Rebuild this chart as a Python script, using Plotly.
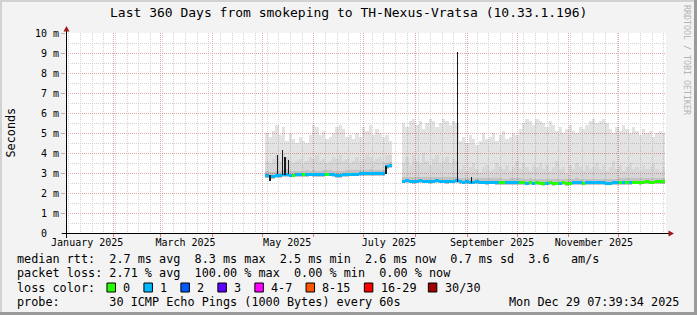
import plotly.graph_objects as go
import pandas as pd

# ---------------- data ----------------
title_text = "Last 360 Days from smokeping to TH-Nexus-Vratsa (10.33.1.196)"
x_range = ["2025-01-03 07:39:34", "2025-12-29 07:39:34"]
y_range = [0, 10]
y_tick_vals = [0, 1, 2, 3, 4, 5, 6, 7, 8, 9, 10]
y_tick_text = ["0\u00a0\u00a0", "1 m", "2 m", "3 m", "4 m", "5 m", "6 m", "7 m", "8 m", "9 m", "10 m"]
x_label_dates = ["2025-01-16 01:00", "2025-03-16 01:00", "2025-05-16 01:00",
                 "2025-07-16 01:00", "2025-09-16 01:00", "2025-11-16 01:00"]
x_label_text = ["January 2025", "March 2025", "May 2025", "July 2025", "September 2025", "November 2025"]
month_starts = ["2025-02-01", "2025-03-01", "2025-04-01", "2025-05-01", "2025-06-01", "2025-07-01",
                "2025-08-01", "2025-09-01", "2025-10-01", "2025-11-01", "2025-12-01"]
week_start = "2025-01-05"

step = "2D"
seg1_start = "2025-05-04"
seg1_median = [2.86, 2.84, 2.83, 2.86, 2.88, 2.92, 2.92, 2.90, 2.90, 2.92,
               2.93, 2.93, 2.94, 2.95, 2.93, 2.92, 2.91, 2.93, 2.95, 2.95,
               2.93, 2.89, 2.88, 2.92, 2.94, 2.95, 2.95, 2.95, 2.96, 2.96,
               2.97, 2.97, 2.97, 2.97, 2.96, 2.97, 3.35, 3.36]
seg1_loss = [1, 1, 1, 1, 1, 1, 1, 1, 0, 1,
             1, 0, 1, 1, 1, 1, 1, 1, 0, 1,
             1, 1, 1, 1, 1, 1, 1, 1, 1, 1,
             1, 1, 1, 1, 1, 1, 1, 1]
seg1_min = [2.74, 2.72, 2.70, 2.74, 2.76, 2.80, 2.80, 2.78, 2.78, 2.80,
            2.81, 2.81, 2.82, 2.83, 2.81, 2.80, 2.79, 2.81, 2.83, 2.83,
            2.81, 2.77, 2.76, 2.80, 2.82, 2.83, 2.83, 2.83, 2.84, 2.84,
            2.85, 2.85, 2.85, 2.85, 2.84, 2.85, 3.22, 3.24]
seg1_inner = [3.10, 3.05, 3.05, 3.12, 3.10, 3.15, 3.20, 3.10, 3.08, 3.12,
              3.10, 3.12, 3.15, 3.12, 3.14, 3.12, 3.10, 3.13, 3.15, 3.14,
              3.12, 3.10, 3.08, 3.12, 3.15, 3.14, 3.15, 3.16, 3.15, 3.17,
              3.16, 3.18, 3.15, 3.17, 3.16, 3.17, 3.52, 3.55]
seg1_mid = [3.6, 3.5, 3.7, 3.9, 3.6, 4.0, 3.8, 3.6, 3.5, 3.6,
            3.7, 3.5, 3.6, 3.8, 3.7, 3.9, 3.6, 3.7, 3.5, 3.6,
            3.8, 3.7, 3.9, 3.6, 3.7, 3.5, 3.6, 3.8, 3.6, 3.7,
            3.9, 3.8, 3.6, 3.7, 3.8, 3.6, 3.9, 3.9]
seg1_max = [5.0, 4.8, 5.1, 5.4, 4.9, 5.3, 4.6, 5.0, 4.7, 4.5,
            4.8, 4.6, 4.5, 4.9, 5.4, 5.3, 4.9, 5.1, 4.7, 4.8,
            5.0, 5.3, 5.4, 5.2, 4.8, 4.9, 4.7, 5.0, 4.8, 5.3,
            5.1, 5.4, 4.9, 5.2, 5.0, 4.8, 4.9, 4.6]

seg2_start = "2025-07-25"
seg2_median = [2.60, 2.61, 2.60, 2.59, 2.60, 2.61, 2.60, 2.60, 2.59, 2.60,
               2.61, 2.60, 2.60, 2.59, 2.60, 2.60, 2.61, 2.56, 2.55, 2.56,
               2.55, 2.55, 2.56, 2.55, 2.55, 2.54, 2.55, 2.55, 2.54, 2.53,
               2.52, 2.51, 2.54, 2.54, 2.53, 2.53, 2.51, 2.50, 2.53, 2.50,
               2.52, 2.50, 2.49, 2.50, 2.52, 2.49, 2.50, 2.50, 2.52, 2.49,
               2.50, 2.52, 2.53, 2.52, 2.50, 2.52, 2.52, 2.51, 2.52, 2.51,
               2.51, 2.50, 2.50, 2.51, 2.52, 2.53, 2.54, 2.53, 2.54, 2.55,
               2.55, 2.54, 2.55, 2.56, 2.55, 2.55, 2.56, 2.56, 2.57]
seg2_loss = [1, 1, 1, 1, 1, 1, 1, 1, 1, 1,
             1, 1, 1, 1, 1, 1, 1, 1, 1, 1,
             1, 1, 1, 1, 1, 1, 1, 1, 1, 0,
             0, 1, 1, 1, 1, 0, 0, 1, 0, 1,
             0, 0, 0, 1, 0, 0, 0, 1, 0, 0,
             0, 1, 1, 1, 0, 1, 1, 1, 1, 1,
             1, 1, 1, 1, 1, 0, 1, 0, 1, 0,
             0, 0, 0, 0, 0, 0, 0, 0, 0]
seg2_min = [2.48, 2.49, 2.48, 2.47, 2.48, 2.49, 2.48, 2.48, 2.47, 2.48,
            2.49, 2.48, 2.48, 2.47, 2.48, 2.48, 2.49, 2.44, 2.43, 2.44,
            2.43, 2.43, 2.44, 2.43, 2.43, 2.42, 2.43, 2.43, 2.42, 2.41,
            2.40, 2.39, 2.42, 2.42, 2.41, 2.41, 2.39, 2.38, 2.41, 2.38,
            2.40, 2.38, 2.37, 2.38, 2.40, 2.37, 2.38, 2.38, 2.40, 2.37,
            2.38, 2.40, 2.41, 2.40, 2.38, 2.40, 2.40, 2.39, 2.40, 2.39,
            2.39, 2.38, 2.38, 2.39, 2.40, 2.41, 2.42, 2.41, 2.42, 2.43,
            2.43, 2.42, 2.43, 2.44, 2.43, 2.43, 2.44, 2.44, 2.45]
seg2_inner = [2.80, 2.81, 2.80, 2.79, 2.80, 2.81, 2.80, 2.80, 2.79, 2.80,
              2.81, 2.80, 2.80, 2.79, 2.80, 2.80, 2.81, 2.76, 2.75, 2.76,
              2.75, 2.75, 2.76, 2.75, 2.75, 2.74, 2.75, 2.75, 2.74, 2.73,
              2.72, 2.71, 2.74, 2.74, 2.73, 2.73, 2.71, 2.70, 2.73, 2.70,
              2.72, 2.70, 2.69, 2.70, 2.72, 2.69, 2.70, 2.70, 2.72, 2.69,
              2.70, 2.72, 2.73, 2.72, 2.70, 2.72, 2.72, 2.71, 2.72, 2.71,
              2.71, 2.70, 2.70, 2.71, 2.72, 2.73, 2.74, 2.73, 2.74, 2.75,
              2.75, 2.74, 2.75, 2.76, 2.75, 2.75, 2.76, 2.76, 2.77]
seg2_mid = [3.5, 3.8, 3.4, 3.9, 3.6, 3.5, 4.0, 3.6, 3.4, 3.7,
            3.9, 3.5, 3.6, 3.8, 3.5, 3.7, 3.6, 3.2, 3.4, 3.1,
            3.3, 3.5, 3.2, 3.0, 3.3, 3.4, 3.1, 3.2, 3.5, 3.3,
            3.2, 3.4, 3.1, 3.3, 3.6, 3.2, 3.5, 3.3, 3.1, 3.4,
            3.3, 3.5, 3.2, 3.4, 3.1, 3.3, 3.6, 3.2, 3.3, 3.0,
            3.4, 3.2, 3.5, 3.3, 3.1, 3.4, 3.2, 3.3, 3.5, 3.2,
            3.4, 3.1, 3.3, 3.6, 3.2, 3.4, 3.1, 3.3, 3.5, 3.2,
            3.3, 3.1, 3.4, 3.2, 3.3, 3.5, 3.2, 3.1, 3.3]
seg2_max = [5.5, 5.3, 5.6, 5.7, 5.4, 5.6, 5.2, 5.5, 5.7, 5.6,
            5.3, 5.5, 5.7, 5.6, 5.4, 5.6, 5.5, 4.6, 4.8, 4.5,
            4.9, 4.7, 4.4, 4.6, 5.0, 4.7, 4.8, 5.0, 4.6, 4.9,
            5.1, 4.7, 4.8, 5.0, 4.9, 5.2, 5.5, 5.7, 5.6, 5.4,
            5.7, 5.6, 5.5, 5.3, 5.6, 5.4, 5.1, 5.3, 5.0, 5.2,
            5.4, 5.1, 5.0, 5.3, 5.2, 5.4, 5.6, 5.7, 5.5, 5.6,
            5.7, 5.5, 5.2, 5.0, 5.3, 5.1, 5.4, 5.2, 5.0, 5.3,
            5.1, 4.9, 5.2, 5.0, 5.1, 4.8, 5.0, 5.1, 5.0]

spike_times = ["2025-05-05 17:00", "2025-05-10 00:00", "2025-05-13 05:00", "2025-05-14 17:00",
               "2025-05-16 19:00", "2025-07-14 07:00", "2025-08-26 10:00", "2025-09-03 10:00"]
spike_low = [2.62, 2.95, 2.90, 2.92, 2.95, 2.95, 2.55, 2.48]
spike_high = [2.90, 3.90, 4.15, 3.80, 3.65, 3.35, 9.05, 2.80]

loss_labels = ["0", "1", "2", "3", "4-7", "8-15", "16-29", "30/30"]
loss_colors = ["#26ff00", "#00b8ff", "#0059ff", "#5e00ff", "#ff00ff", "#ff5500", "#ff0000", "#a10000"]

legend_row1 = "median rtt:  2.7 ms avg  8.3 ms max  2.5 ms min  2.6 ms now  0.7 ms sd  3.6   am/s"
legend_row2 = "packet loss: 2.71 % avg  100.00 % max  0.00 % min  0.00 % now"
legend_row3 = "loss color:"
legend_row4 = "probe:       30 ICMP Echo Pings (1000 Bytes) every 60s"
legend_date = "Mon Dec 29 07:39:34 2025"
y_title = "Seconds"
credit = "RRDTOOL / TOBI OETIKER"

# ---------------- layout constants ----------------
W, H = 697, 315
L, R, T, B = 66, 666, 33, 233
MONO = "DejaVu Sans Mono"
DAY_MS = 86400000
BAR_W = 2 * DAY_MS
SPIKE_W = 0.7 * DAY_MS
MED_T = 0.15


def px(x):
    return (x - L) / (R - L)


def py(y):
    return (B - y) / (B - T)


def nb(s):
    return s.replace(" ", "\u00a0")


fig = go.Figure()


def band(xs, lo, hi, color):
    fig.add_trace(go.Bar(x=xs, y=[h - l for l, h in zip(lo, hi)], base=lo, width=BAR_W,
                         marker=dict(color=color, line=dict(width=0)),
                         hoverinfo="skip", showlegend=False))


for start, med, loss, mn, inner, mid, mx in [
        (seg1_start, seg1_median, seg1_loss, seg1_min, seg1_inner, seg1_mid, seg1_max),
        (seg2_start, seg2_median, seg2_loss, seg2_min, seg2_inner, seg2_mid, seg2_max)]:
    xs = pd.date_range(start, periods=len(med), freq=step)
    band(xs, mn, med, "rgba(0,0,0,0.22)")
    band(xs, med, inner, "rgba(0,0,0,0.24)")
    band(xs, inner, mid, "rgba(0,0,0,0.155)")
    band(xs, mid, mx, "rgba(0,0,0,0.11)")
    fig.add_trace(go.Bar(x=xs, y=[MED_T] * len(med), base=[m - MED_T / 2 for m in med],
                         width=BAR_W,
                         marker=dict(color=[loss_colors[c] for c in loss], line=dict(width=0)),
                         hoverinfo="skip", showlegend=False))

fig.add_trace(go.Bar(x=pd.to_datetime(spike_times), y=[h - l for l, h in zip(spike_low, spike_high)],
                     base=spike_low, width=SPIKE_W, xaxis="x2",
                     marker=dict(color="#1a1a1a", line=dict(width=0)),
                     hoverinfo="skip", showlegend=False))

shapes = []
# 3D frame
shapes.append(dict(type="rect", xref="paper", yref="paper", x0=px(0), x1=px(W), y0=py(0), y1=py(2),
                   fillcolor="#d2d2d2", line=dict(width=0), layer="above"))
shapes.append(dict(type="rect", xref="paper", yref="paper", x0=px(0), x1=px(2), y0=py(0), y1=py(H),
                   fillcolor="#d2d2d2", line=dict(width=0), layer="above"))
shapes.append(dict(type="rect", xref="paper", yref="paper", x0=px(W - 3), x1=px(W), y0=py(0), y1=py(H),
                   fillcolor="#9a9a9a", line=dict(width=0), layer="above"))
shapes.append(dict(type="rect", xref="paper", yref="paper", x0=px(0), x1=px(W), y0=py(H - 3), y1=py(H),
                   fillcolor="#9a9a9a", line=dict(width=0), layer="above"))
# axes
shapes.append(dict(type="line", xref="paper", yref="paper", x0=px(62), x1=px(670), y0=py(233.5), y1=py(233.5),
                   line=dict(color="#000000", width=1), layer="above"))
shapes.append(dict(type="line", xref="paper", yref="paper", x0=px(66.5), x1=px(66.5), y0=py(238), y1=py(30),
                   line=dict(color="#000000", width=1), layer="above"))
# arrows
shapes.append(dict(type="path", xref="paper", yref="paper",
                   path=f"M {px(63.5)},{py(31.5)} L {px(69.5)},{py(31.5)} L {px(66.5)},{py(26)} Z",
                   fillcolor="#a01818", line=dict(width=0), layer="above"))
shapes.append(dict(type="path", xref="paper", yref="paper",
                   path=f"M {px(668.5)},{py(230.5)} L {px(668.5)},{py(236.5)} L {px(674)},{py(233.5)} Z",
                   fillcolor="#a01818", line=dict(width=0), layer="above"))

annotations = []
annotations.append(dict(text=nb(title_text), x=px(348.5), y=py(13), xref="paper", yref="paper",
                        showarrow=False, xanchor="center", yanchor="middle",
                        font=dict(family=MONO, size=13, color="#000000")))
annotations.append(dict(text=y_title, x=px(10.5), y=py(133), xref="paper", yref="paper",
                        showarrow=False, xanchor="center", yanchor="middle", textangle=-90,
                        font=dict(family=MONO, size=11.8, color="#000000")))
annotations.append(dict(text=nb(credit), x=px(687), y=py(60), xref="paper", yref="paper",
                        showarrow=False, xanchor="center", yanchor="middle", textangle=90,
                        font=dict(family=MONO, size=8.3, color="#b4b4b4")))

CH = 7.11
X0 = 15.6
ROWS = [258.5, 273, 287.5, 302]
for txt, yy in [(legend_row1, ROWS[0]), (legend_row2, ROWS[1]), (legend_row3, ROWS[2]), (legend_row4, ROWS[3])]:
    annotations.append(dict(text=nb(txt), x=px(X0), y=py(yy), xref="paper", yref="paper",
                            showarrow=False, xanchor="left", yanchor="middle", borderpad=0,
                            font=dict(family=MONO, size=11.8, color="#000000")))
annotations.append(dict(text=nb(legend_date), x=px(680), y=py(ROWS[3]), xref="paper", yref="paper",
                        showarrow=False, xanchor="right", yanchor="middle", borderpad=0,
                        font=dict(family=MONO, size=11.8, color="#000000")))
text_cols = [15, 20.2, 25.4, 30.6, 35.8, 43, 51.2, 60.2]
for lab, col, tc in zip(loss_labels, loss_colors, text_cols):
    bx = X0 + (tc - 2.15) * CH
    shapes.append(dict(type="rect", xref="paper", yref="paper", x0=px(bx), x1=px(bx + 8.5),
                       y0=py(ROWS[2] - 4.5), y1=py(ROWS[2] + 4.5),
                       fillcolor=col, line=dict(color="#000000", width=1), layer="above"))
    annotations.append(dict(text=nb(lab), x=px(X0 + tc * CH), y=py(ROWS[2]), xref="paper", yref="paper",
                            showarrow=False, xanchor="left", yanchor="middle", borderpad=0,
                            font=dict(family=MONO, size=11.8, color="#000000")))

MINOR_GRID = "#d4d4d4"
MAJOR_GRID = "#e8a6a6"
DASH = "1px,1px"

fig.update_layout(
    width=W, height=H, autosize=False,
    margin=dict(l=L, r=W - R, t=T, b=H - B, pad=0),
    paper_bgcolor="#f3f3f3", plot_bgcolor="#ffffff",
    barmode="overlay", bargap=0, showlegend=False,
    shapes=shapes, annotations=annotations,
    xaxis=dict(type="date", range=x_range, tickmode="array", tickvals=x_label_dates, ticktext=x_label_text,
               showgrid=False, zeroline=False, showline=False, ticks="", ticklabelstandoff=2,
               tickfont=dict(family=MONO, size=10, color="#000000"),
               minor=dict(tick0=week_start, dtick=7 * DAY_MS, showgrid=True, gridcolor=MINOR_GRID,
                          griddash=DASH, gridwidth=1, ticks="")),
    xaxis2=dict(type="date", range=x_range, overlaying="x", side="bottom", tickmode="array",
                tickvals=month_starts, showticklabels=False, showgrid=True, gridcolor=MAJOR_GRID,
                griddash=DASH, gridwidth=1, zeroline=False, showline=False,
                ticks="outside", ticklen=3, tickcolor="#e08080", tickwidth=1),
    yaxis=dict(range=y_range, tickmode="array", tickvals=y_tick_vals, ticktext=y_tick_text,
               showgrid=True, gridcolor=MAJOR_GRID, griddash=DASH, gridwidth=1,
               zeroline=False, showline=False, ticks="outside", ticklen=4, tickcolor="#c8a8a8",
               tickfont=dict(family=MONO, size=10, color="#000000"),
               minor=dict(dtick=0.5, tick0=0, showgrid=True, gridcolor=MINOR_GRID, griddash=DASH,
                          gridwidth=1, ticks="")),
)

fig.write_html("out.html", config={"displayModeBar": False, "staticPlot": True})
